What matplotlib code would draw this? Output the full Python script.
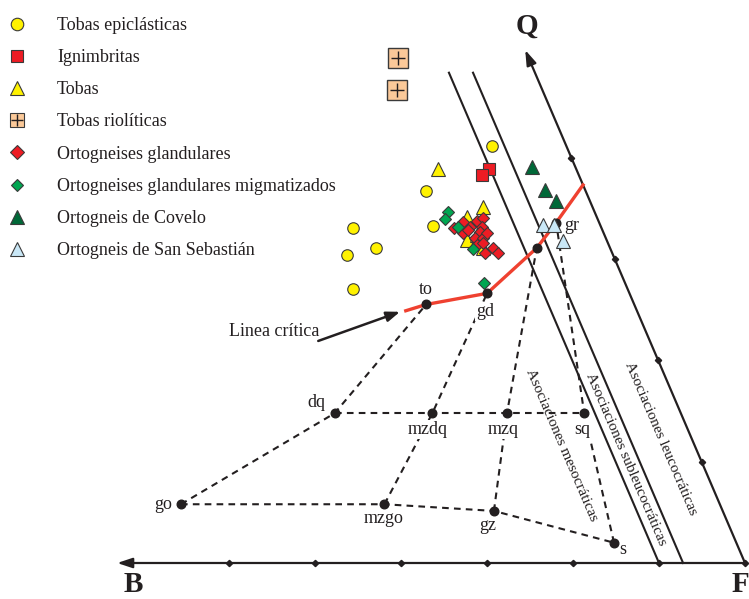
import numpy as np
import matplotlib
matplotlib.use("Agg")
import matplotlib.pyplot as plt
from matplotlib.transforms import Affine2D
from matplotlib.lines import Line2D

plt.rcParams['font.family'] = ['Liberation Serif', 'DejaVu Serif']

# ---------------------------------------------------------------------------
# Sample compositions in the B-Q plane (B = Fe+Mg+Ti, Q = quartz parameter)
# ---------------------------------------------------------------------------
tobas_epi_B = [43.4, 92.8, 97.6, 144.4, 136.2, 154.9, 159.5]
tobas_epi_Q = [205.8, 183.6, 166.5, 165.2, 155.5, 152.0, 135.2]

ignimbritas_B = [50.7, 56.2]
ignimbritas_Q = [194.5, 191.3]

tobas_B = [80.6, 63.6, 75.5, 80.9, 73.7, 74.1]
tobas_Q = [194.3, 175.5, 170.9, 159.4, 155.5, 161.9]

tobas_riol_B = [75.7, 84.7]
tobas_riol_Q = [249.4, 233.5]

orto_gland_B = [85.8, 78.7, 81.7, 76.1, 70.8, 66.3, 69.3, 71.6, 76.1,
                71.3, 76.7, 72.5, 74.0, 68.0, 66.3, 78.1, 67.8]
orto_gland_Q = [165.2, 168.5, 162.7, 166.0, 168.8, 170.1, 166.0, 163.5, 160.3,
                160.3, 157.0, 157.8, 152.9, 155.3, 152.9, 164.4, 162.9]

orto_migm_B = [85.1, 88.7, 83.1, 79.8, 82.0]
orto_migm_Q = [173.1, 169.8, 165.7, 154.8, 138.1]

covelo_B = [25.3, 23.4, 19.7]
covelo_Q = [195.6, 184.1, 178.8]

sansebastian_B = [33.4, 26.9, 25.7]
sansebastian_Q = [166.8, 166.8, 159.1]

# Reference rock compositions (Debon & Le Fort)
ref_names = ['to', 'gd', 'ad', 'gr', 'dq', 'mzdq', 'mzq', 'sq', 'go', 'mzgo', 'gz', 's']
ref_B = [121.0, 82.8, 42.6, 25.0, 201.3, 144.5, 101.1, 56.2, 313.3, 195.0, 133.0, 71.1]
ref_Q = [127.6, 133.1, 155.5, 168.0, 73.9, 73.9, 73.9, 73.9, 29.0, 29.0, 25.7, 10.0]

# Trend lines joining reference compositions
ref_links = [['go', 'dq', 'to'],
             ['dq', 'mzdq', 'mzq', 'sq'],
             ['go', 'mzgo', 'gz', 's'],
             ['mzgo', 'mzdq', 'gd'],
             ['gz', 'mzq', 'ad'],
             ['s', 'sq', 'gr']]

# Critical line
critica_B = [134.4, 121.0, 82.8, 42.6, 25.0, 0.0]
critica_Q = [124.5, 127.6, 133.1, 155.5, 168.0, 186.6]

# Association boundaries (constant B) and axes
limite_B = [50.0, 36.0]
limite_Qmax = 242.0
eje_B_max = 365.0
eje_Q_max = 253.2
ticks_B = [0, 50, 100, 150, 200, 250, 300]
ticks_Q = [50, 100, 150, 200]

# ---------------------------------------------------------------------------
fig = plt.figure(figsize=(7.49, 5.99), dpi=100)
ax = fig.add_axes([0, 0, 1, 1])
ax.set_xlim(0, 749)
ax.set_ylim(599, 0)
ax.axis('off')

# Oblique B-Q frame: B runs left along the base, Q along the inclined side
bq_affine = Affine2D.from_values(-1.72, 0.0, -0.868, -2.026, 745.0, 563.0)
bq = bq_affine + ax.transData

dark = '#231f20'
edge = '#3a3a3a'

# Axes of the diagram
arrow_kw = dict(arrowstyle='-|>,head_length=0.9,head_width=0.3',
                color=dark, lw=1.6, shrinkA=0, shrinkB=0)
ax.annotate('', xy=(eje_B_max, 0), xytext=(0, 0), xycoords=bq, textcoords=bq,
            arrowprops=arrow_kw, zorder=2)
ax.annotate('', xy=(0, eje_Q_max), xytext=(0, 0), xycoords=bq, textcoords=bq,
            arrowprops=arrow_kw, zorder=2)
ax.plot(ticks_B, [0] * len(ticks_B), linestyle='none', marker='D', ms=3.2,
        color=dark, transform=bq, zorder=3)
ax.plot([0] * len(ticks_Q), ticks_Q, linestyle='none', marker='D', ms=3.2,
        color=dark, transform=bq, zorder=3)

# Association boundaries
for b in limite_B:
    ax.plot([b, b], [0, limite_Qmax], color=dark, lw=1.5, transform=bq, zorder=2)

# Text running down along the Q direction
vec = bq_affine.transform([[0, 0], [0, 1]])
ang = np.degrees(np.arctan2(vec[1, 1] - vec[0, 1], -(vec[1, 0] - vec[0, 0])))
txt_kw = dict(transform=bq, rotation=ang, rotation_mode='anchor', ha='center',
              va='center', fontsize=11, color=dark, zorder=3)
ax.text(18.0, 61.2, 'Asociaciones leucocráticas', **txt_kw)
ax.text(43.5, 51.3, 'Asociaciones subleucocráticas', **txt_kw)
ax.text(77.2, 58.2, 'Asociaciones mesocráticas', **txt_kw)

# Reference trend lines
pos = dict(zip(ref_names, zip(ref_B, ref_Q)))
for link in ref_links:
    ax.plot([pos[n][0] for n in link], [pos[n][1] for n in link], color=dark,
            lw=1.5, linestyle=(0, (3.2, 2.5)), transform=bq, zorder=2)

# Critical line
ax.plot(critica_B, critica_Q, color='#ef4130', lw=2.4, transform=bq, zorder=3)

ax.plot(ref_B, ref_Q, linestyle='none', marker='o', ms=6.2, color=dark,
        transform=bq, zorder=4)

label_off = {'to': (0, 10.5), 'gd': (-1.5, -13), 'gr': (11.5, -2.4), 'dq': (-13, 8),
             'mzdq': (-3.3, -11.5), 'mzq': (-2.4, -12), 'sq': (-1.7, -11.5),
             'go': (-12.5, -0.5), 'mzgo': (-0.7, -10.5), 'gz': (-4.5, -10.5),
             's': (6, -5)}
for n, off in label_off.items():
    ax.annotate(n, xy=pos[n], xycoords=bq, xytext=off, textcoords='offset points',
                ha='center', va='center', fontsize=13, color=dark, zorder=3.5,
                bbox=dict(boxstyle='square,pad=0.05', fc='white', ec='none'))

# Critical line caption
ax.annotate('', xy=(138.0, 124.0), xytext=(192.8, 109.6), xycoords=bq, textcoords=bq,
            arrowprops=dict(arrowstyle='-|>,head_length=0.8,head_width=0.3',
                            color=dark, lw=1.8, shrinkA=0, shrinkB=0), zorder=3)
ax.text(242.0, 114.5, 'Linea crítica', transform=bq, ha='left', va='center',
        fontsize=13, color=dark)

# Corner labels
lab_kw = dict(fontsize=21, fontweight='bold', color=dark, ha='center', va='center')
ax.annotate('Q', xy=(0, eje_Q_max), xycoords=bq, xytext=(1.4, 17),
            textcoords='offset points', **lab_kw)
ax.annotate('B', xy=(eje_B_max, 0), xycoords=bq, xytext=(11.5, -15.5),
            textcoords='offset points', **lab_kw)
ax.annotate('F', xy=(0, 0), xycoords=bq, xytext=(-3.5, -15.5),
            textcoords='offset points', **lab_kw)

# Sample groups
c_yellow = '#fff200'
c_red = '#ed1c24'
c_green = '#00a651'
c_dkgreen = '#006838'
c_ltblue = '#c9e7f6'
c_peach = '#fbc999'

ax.plot(tobas_epi_B, tobas_epi_Q, 'o', ms=8.3, mfc=c_yellow, mec=edge, mew=0.8,
        transform=bq, zorder=5)
ax.plot(tobas_B, tobas_Q, '^', ms=10, mfc=c_yellow, mec=edge, mew=0.8,
        transform=bq, zorder=5)
ax.plot(ignimbritas_B, ignimbritas_Q, 's', ms=8, mfc=c_red, mec=edge, mew=0.8,
        transform=bq, zorder=5)
ax.plot(orto_gland_B, orto_gland_Q, 'D', ms=6.6, mfc=c_red, mec=edge, mew=0.8,
        transform=bq, zorder=6)
ax.plot(orto_migm_B, orto_migm_Q, 'D', ms=6.6, mfc=c_green, mec=edge, mew=0.8,
        transform=bq, zorder=7)
ax.plot(covelo_B, covelo_Q, '^', ms=10, mfc=c_dkgreen, mec=edge, mew=0.8,
        transform=bq, zorder=5)
ax.plot(sansebastian_B, sansebastian_Q, '^', ms=10, mfc=c_ltblue, mec=edge, mew=0.8,
        transform=bq, zorder=5)
ax.plot(tobas_riol_B, tobas_riol_Q, 's', ms=14.5, mfc=c_peach, mec=edge, mew=1.0,
        transform=bq, zorder=5)
ax.plot(tobas_riol_B, tobas_riol_Q, '+', ms=10.5, color=dark, mew=1.0,
        transform=bq, zorder=5)

# Legend
def mk(marker, ms, fc, **kw):
    return Line2D([], [], linestyle='none', marker=marker, ms=ms, mfc=fc, mec=edge,
                  mew=0.8, **kw)

handles = [mk('o', 9, c_yellow),
           mk('s', 8.5, c_red),
           mk('^', 10, c_yellow),
           (mk('s', 10.5, c_peach), Line2D([], [], linestyle='none', marker='+', ms=8,
                                            color=dark, mew=1.0)),
           mk('D', 7.2, c_red),
           mk('D', 6.6, c_green),
           mk('^', 10, c_dkgreen),
           mk('^', 10, c_ltblue)]
labels = ['Tobas epiclásticas', 'Ignimbritas', 'Tobas', 'Tobas riolíticas',
          'Ortogneises glandulares', 'Ortogneises glandulares migmatizados',
          'Ortogneis de Covelo', 'Ortogneis de San Sebastián']
fig.legend(handles, labels, loc='upper left', bbox_to_anchor=(8.0 / 749, 1 - 17 / 599),
           bbox_transform=fig.transFigure, frameon=False, fontsize=13,
           handlelength=1.0, handletextpad=1.72, borderpad=0, borderaxespad=0,
           labelspacing=0.84, labelcolor=dark)

fig.savefig('out.png', dpi=100)
